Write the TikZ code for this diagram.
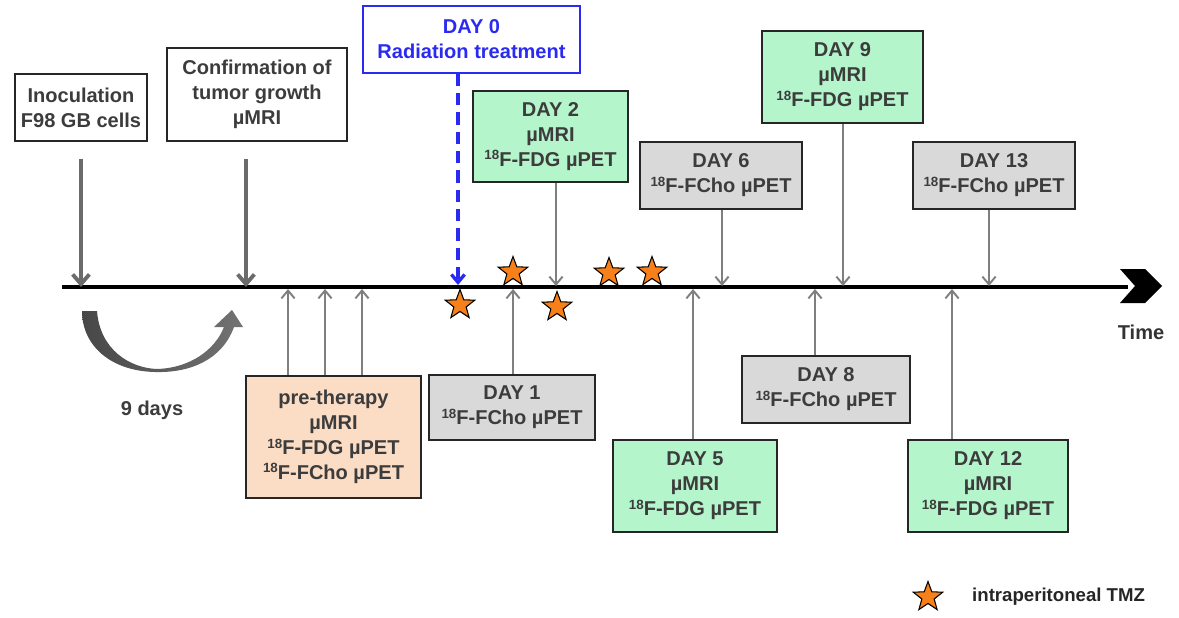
\documentclass[tikz,border=0pt]{standalone}
\usepackage{fontspec}
\setmainfont{Liberation Sans}
\usetikzlibrary{arrows.meta,shapes.geometric}
\definecolor{Txtgray}{HTML}{3C3C3C}
\definecolor{Arrgray}{HTML}{6B6B6B}
\definecolor{Thingray}{HTML}{7F7F7F}
\definecolor{Petgreen}{HTML}{B4F5CB}
\definecolor{Chogray}{HTML}{D9D9D9}
\definecolor{Prepeach}{HTML}{FBDCC4}
\definecolor{Radblue}{HTML}{2A2AF2}
\definecolor{Tmzorange}{HTML}{F7801A}
\newcommand{\iso}{\raisebox{0.33em}{\fontsize{7.6}{8}\selectfont 18}}

\begin{document}
\begin{tikzpicture}[x=0.02cm,y=-0.02cm,
 box/.style={draw=black!85,line width=1pt,text=Txtgray,align=center,inner sep=0pt,
  font=\bfseries\fontsize{11.4}{14.2}\selectfont},
 pet/.style={box,fill=Petgreen},
 cho/.style={box,fill=Chogray},
 bigarr/.style={draw=Arrgray,line width=2.2pt,-{Straight Barb[length=5.5pt,width=9.5pt]}},
 thinarr/.style={draw=Thingray,line width=1.1pt,-{Straight Barb[length=4.5pt,width=7.5pt]}},
 tmz/.style={star,star points=5,star point ratio=2.4,minimum size=0.62cm,inner sep=0pt,
  fill=Tmzorange,draw=black,line width=0.6pt}]
\useasboundingbox[fill=white] (0,0) rectangle (1179,618);

\node[box,minimum width=2.64cm,minimum height=1.34cm] (inoc) at (81,107.5) {Inoculation\\F98 GB cells};
\node[box,minimum width=3.6cm,minimum height=1.86cm] (confirm) at (257,94.5) {Confirmation of\\tumor growth\\µMRI};
\node[box,draw=Radblue,line width=0.8pt,text=Radblue,minimum width=4.34cm,minimum height=1.34cm] (day0) at (471.5,39.5) {DAY 0\\Radiation treatment};
\node[pet,minimum width=3.1cm,minimum height=1.82cm] (day2) at (550.5,136.5) {DAY 2\\µMRI\\\iso F-FDG µPET};
\node[cho,minimum width=3.24cm,minimum height=1.34cm] (day6) at (721,175.5) {DAY 6\\\iso F-FCho µPET};
\node[pet,minimum width=3.22cm,minimum height=1.84cm] (day9) at (842.5,77) {DAY 9\\µMRI\\\iso F-FDG µPET};
\node[cho,minimum width=3.24cm,minimum height=1.34cm] (day13) at (994,175.5) {DAY 13\\\iso F-FCho µPET};
\node[box,fill=Prepeach,minimum width=3.5cm,minimum height=2.44cm] (pre) at (333.5,437) {pre-therapy\\µMRI\\\iso F-FDG µPET\\\iso F-FCho µPET};
\node[cho,minimum width=3.32cm,minimum height=1.3cm] (day1) at (512,407.5) {DAY 1\\\iso F-FCho µPET};
\node[pet,minimum width=3.28cm,minimum height=1.84cm] (day5) at (695,486) {DAY 5\\µMRI\\\iso F-FDG µPET};
\node[cho,minimum width=3.36cm,minimum height=1.34cm] (day8) at (826,389.5) {DAY 8\\\iso F-FCho µPET};
\node[pet,minimum width=3.2cm,minimum height=1.84cm] (day12) at (988,486) {DAY 12\\µMRI\\\iso F-FDG µPET};

\coordinate (tstart) at (62,287);
\coordinate (tend) at (1128,287);
\draw[line width=2pt] (tstart) -- (tend);
\fill (1120,269) -- (1145,269) -- (1162,286) -- (1145,303) -- (1120,303) -- (1135,286) -- cycle;
\node[font=\bfseries\fontsize{11.4}{14}\selectfont,text=black!80] (timelbl) at (1141,332) {Time};

\coordinate (tc) at (246,287);
\draw[bigarr,shorten <=0.34cm] (inoc.south) -- (inoc.south |- tstart);
\draw[bigarr,shorten <=0.34cm] (confirm.south -| tc) -- (tc);

\coordinate (t0) at (458,285);
\draw[draw=Radblue,line width=1.9pt,dash pattern=on 7pt off 4pt,-{Straight Barb[length=4.5pt,width=7.5pt]}] (day0.south -| t0) -- (t0);

\foreach \b/\x in {day2/556,day6/722,day9/843,day13/989}{
 \coordinate (t\b) at (\x,286);
 \draw[thinarr] (\b.south -| t\b) -- (t\b);}
\foreach \b/\x in {day1/513,day5/693,day8/815,day12/952}{
 \coordinate (t\b) at (\x,289);
 \draw[thinarr] (\b.north -| t\b) -- (t\b);}
\foreach \i/\x in {1/288,2/325,3/362}{
 \coordinate (tp\i) at (\x,289);
 \draw[thinarr] (pre.north -| tp\i) -- (tp\i);}

\foreach \i/\x/\y in {1/460/305,2/513/272,3/557/307,4/609/273,5/652/272}
 \node[tmz] (s\i) at (\x,\y) {};

\shade[left color=black!72,right color=black!55] (82,311) -- (97,311)
 .. controls (100,350) and (130,368) .. (157,369) .. controls (190,368) and (215,350) .. (224,327)
 -- (214,327) -- (232,310) -- (243,327) -- (234,327)
 .. controls (222,360) and (190,373) .. (155,372) .. controls (110,371) and (82,345) .. (82,311) -- cycle;
\node[font=\bfseries\fontsize{11.4}{14}\selectfont,text=Txtgray] (ninedays) at (152,410) {9 days};

\node[tmz] (legstar) at (928,597) {};
\node[anchor=west,font=\bfseries\fontsize{10.6}{13}\selectfont,text=black!85] (legtxt) at (966,597) {intraperitoneal TMZ};
\end{tikzpicture}
\end{document}
